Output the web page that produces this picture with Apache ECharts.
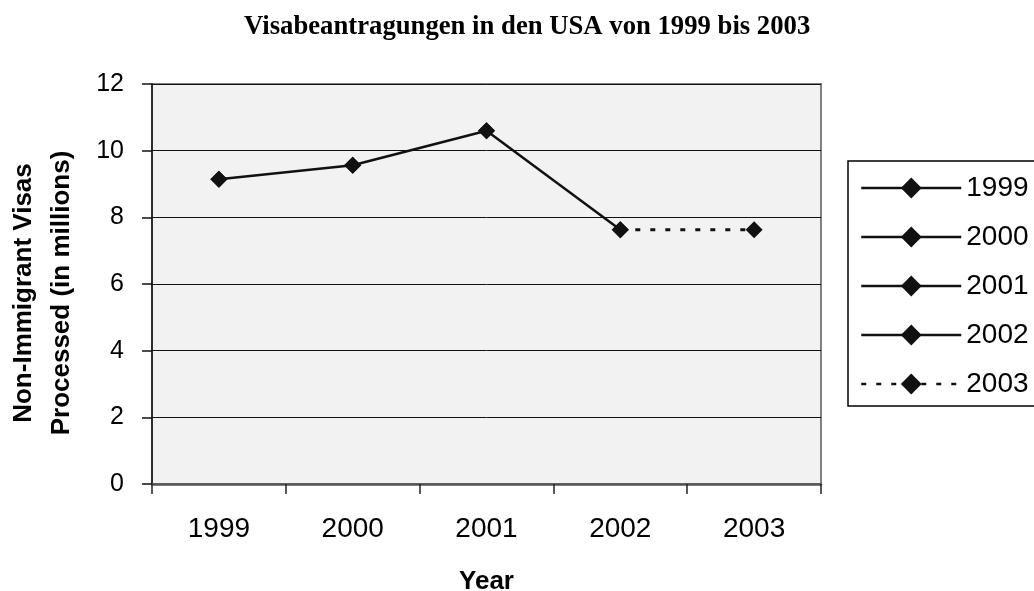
<!DOCTYPE html>
<html>
<head>
<meta charset="utf-8">
<script src="https://cdn.jsdelivr.net/npm/echarts@6/dist/echarts.min.js"></script>
<style>html,body{margin:0;padding:0;background:#fff}#c{width:1034px;height:591px}</style>
</head>
<body>
<div id="c"></div>
<script>
const titleText = 'Visabeantragungen in den USA von 1999 bis 2003';
const years = ['1999', '2000', '2001', '2002', '2003'];
const visas = [9.14, 9.56, 10.6, 7.63, 7.63];
const yAxisTitle = 'Non-Immigrant Visas\nProcessed (in millions)';
const xAxisTitle = 'Year';

const SANS = 'Liberation Sans, Arial, sans-serif';
const chart = echarts.init(document.getElementById('c'), null, {renderer: 'canvas'});

// each legend entry is one segment ending at that year (like per-point formatting)
const series = years.map((y, i) => {
  const data = visas.map((v, j) => (j === i || j === i - 1) ? v : null);
  const dotted = (i === years.length - 1);
  return {
    name: y,
    type: 'line',
    data: data,
    symbol: 'diamond',
    symbolSize: 17,
    showSymbol: true,
    showAllSymbol: true,
    connectNulls: false,
    animation: false,
    itemStyle: {color: '#111'},
    lineStyle: {color: '#111', width: dotted ? 3 : 2.5, type: dotted ? [5, 10] : 'solid'},
    emphasis: {disabled: true}
  };
});

chart.setOption({
  backgroundColor: '#fff',
  animation: false,
  title: {
    text: titleText,
    left: 239,
    top: 9,
    textStyle: {fontFamily: 'Liberation Serif, Times New Roman, serif', fontWeight: 'bold', fontSize: 26.7, color: '#000'}
  },
  grid: {
    left: 152, top: 84, width: 669, height: 400,
    containLabel: false,
    outerBoundsMode: 'none',
    show: true, backgroundColor: '#f2f2f2', borderColor: '#808080', borderWidth: 2
  },
  legend: {
    orient: 'vertical',
    left: 848, top: 161,
    padding: [13, 60, 8, 12],
    borderColor: '#000', borderWidth: 1.5,
    itemWidth: 100, itemHeight: 26, itemGap: 21,
    lineStyle: {width: 2.5},
    textStyle: {fontFamily: SANS, fontSize: 28, color: '#000'},
    data: years
  },
  xAxis: {
    type: 'category',
    data: years,
    boundaryGap: true,
    name: xAxisTitle,
    nameLocation: 'middle',
    nameGap: 85,
    nameTextStyle: {fontFamily: SANS, fontWeight: 'bold', fontSize: 26, color: '#000'},
    axisLine: {show: true, lineStyle: {color: '#555', width: 2.5}},
    axisTick: {show: true, length: 10, alignWithLabel: false, lineStyle: {color: '#222', width: 1.5}},
    axisLabel: {margin: 31, fontFamily: SANS, fontSize: 28, color: '#000'},
    splitLine: {show: false}
  },
  yAxis: {
    type: 'value',
    min: 0, max: 12, interval: 2,
    name: yAxisTitle,
    nameLocation: 'middle',
    nameRotate: 90,
    nameGap: 71,
    nameTextStyle: {fontFamily: SANS, fontWeight: 'bold', fontSize: 26, color: '#000', lineHeight: 38, padding: [0, 18, 0, 0]},
    axisLine: {show: true, lineStyle: {color: '#111', width: 1.5}},
    axisTick: {show: true, length: 10, lineStyle: {color: '#111', width: 1.5}},
    axisLabel: {margin: 28, fontFamily: SANS, fontSize: 25, color: '#000'},
    splitLine: {show: true, lineStyle: {color: '#111', width: 1}}
  },
  series: series
});
</script>
</body>
</html>
